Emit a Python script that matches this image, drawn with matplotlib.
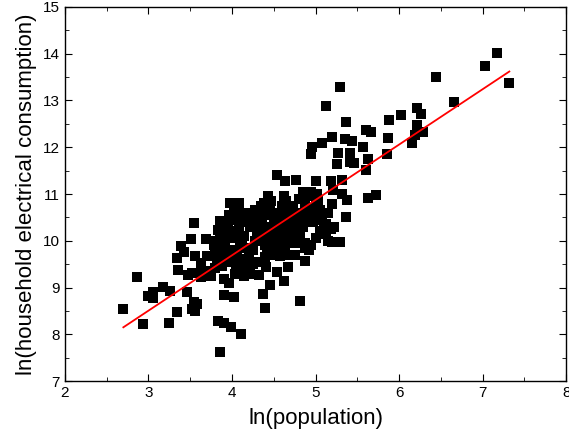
"""Scatter of ln(household electrical consumption) vs ln(population) with linear fit."""
import matplotlib
matplotlib.use("Agg")
import matplotlib.pyplot as plt
from matplotlib.ticker import MultipleLocator
import numpy as np

plt.rcParams["font.family"] = ["Liberation Sans", "DejaVu Sans"]

# --- points (outer, well-separated ones) ---
x_outer = [7.17, 7.03, 7.32, 6.44, 6.66, 5.29, 5.13, 6.22, 6.26, 6.02, 5.88, 5.37,
           6.22, 5.60, 5.67, 6.29, 6.19, 5.20, 5.87, 5.35, 5.44, 5.08, 6.16, 4.96,
           5.57, 4.95, 5.27, 5.41, 5.86, 5.63, 5.41, 5.26, 5.46, 5.60, 4.54, 4.77,
           5.01, 4.63, 5.18, 5.32, 5.21, 5.32, 5.72, 5.63, 5.38, 5.20, 5.36, 5.29,
           5.20, 4.82, 3.86, 4.11, 3.99, 3.90, 3.83, 4.40, 4.37, 4.46, 4.62, 4.67,
           4.54, 4.41, 4.32, 4.88, 4.02, 3.90, 3.97, 3.91,
           2.70, 2.94, 2.86, 2.99, 3.05, 3.05, 3.17, 3.26, 3.25, 3.34, 3.46, 3.54,
           3.58, 3.52, 3.56, 3.36, 3.34, 3.39, 3.42, 3.51, 3.54, 3.69, 3.47, 3.52,
           3.56, 3.63, 3.63, 3.75, 3.70, 3.80, 3.86, 3.98, 4.08, 3.83, 3.81, 3.80,
           3.86, 3.94]
y_outer = [14.02, 13.74, 13.37, 13.50, 12.97, 13.28, 12.88, 12.85, 12.71, 12.69, 12.59, 12.54,
           12.47, 12.36, 12.32, 12.32, 12.26, 12.23, 12.19, 12.18, 12.13, 12.10, 12.10, 12.00,
           12.00, 11.86, 11.88, 11.88, 11.85, 11.75, 11.68, 11.65, 11.66, 11.52, 11.41, 11.31,
           11.28, 11.27, 11.27, 11.29, 11.09, 11.00, 10.98, 10.91, 10.87, 10.78, 10.50, 9.97,
           9.97, 8.72, 7.62, 8.01, 8.16, 8.25, 8.28, 8.56, 8.87, 9.05, 9.13, 9.43,
           9.33, 9.43, 9.27, 9.56, 8.79, 8.84, 9.10, 9.18,
           8.54, 8.21, 9.22, 8.82, 8.78, 8.90, 9.01, 8.93, 8.25, 8.47, 8.91, 8.69,
           8.65, 8.54, 8.49, 9.38, 9.63, 9.89, 9.76, 10.04, 10.39, 10.04, 9.26, 9.31,
           9.67, 9.53, 9.23, 9.24, 9.67, 9.41, 10.43, 10.81, 10.80, 10.23, 10.00, 9.78,
           9.76, 10.17]

# --- dense central cloud (estimated) ---
x_core = [4.02, 4.08, 4.12, 4.05, 4.15, 3.95, 3.90, 3.85, 3.90, 3.95, 4.00, 4.05,
          4.10, 4.15, 4.20, 4.25, 4.20, 4.18, 4.10, 4.02, 3.98, 3.93, 3.88, 4.05,
          4.12, 4.22, 4.25, 4.27, 4.30, 4.22, 4.18, 4.25, 4.30, 4.35, 4.38, 4.43,
          4.47, 4.40, 4.45, 4.50, 4.42, 4.38, 4.35, 4.40, 4.42, 4.48, 4.52, 4.55,
          4.58, 4.60, 4.55, 4.60, 4.62, 4.65, 4.68, 4.70, 4.65, 4.70, 4.63, 4.58,
          4.50, 4.68, 4.72, 4.75, 4.78, 4.73, 4.80, 4.85, 4.90, 4.95, 5.00, 4.88,
          4.93, 4.97, 4.85, 4.82, 4.88, 4.92, 4.95, 5.00, 5.05, 5.10, 5.12, 5.15,
          5.08, 5.05, 4.98, 5.03, 5.02, 4.87, 4.78, 4.75, 4.32, 4.28, 4.35, 4.45,
          4.52, 4.57, 4.62, 4.48, 4.36, 4.30, 4.15, 4.08, 4.00, 3.92, 3.86, 3.78,
          3.82, 3.88, 4.10, 4.16, 4.22, 4.45, 4.50, 4.56, 4.66, 4.72, 4.80, 4.84,
          4.90, 4.96, 5.06, 5.14, 5.18, 4.40, 4.34, 4.26, 4.20, 4.12, 4.06, 3.96,
          4.60, 4.64, 4.70, 4.76, 4.82, 4.60, 4.53, 4.46,
          5.12, 5.18, 5.22, 5.15, 5.10, 3.72, 3.66, 3.60, 4.44, 4.56, 4.64, 4.04]
y_core = [10.70, 10.62, 10.55, 10.45, 10.40, 10.35, 10.10, 9.95, 9.85, 9.70, 9.55, 9.45,
          9.35, 9.25, 9.30, 9.50, 9.70, 9.85, 9.90, 10.05, 9.80, 9.60, 9.45, 9.65,
          9.60, 9.55, 9.80, 10.00, 10.15, 10.30, 10.60, 10.50, 10.40, 10.30, 10.80, 10.95,
          10.85, 10.65, 10.55, 10.45, 10.30, 10.15, 10.05, 9.90, 9.75, 9.70, 9.85, 10.00,
          10.20, 10.35, 10.60, 10.75, 10.95, 10.85, 10.60, 10.40, 10.20, 10.05, 9.70, 9.68,
          9.72, 9.70, 9.95, 10.25, 10.50, 10.70, 10.90, 11.05, 10.95, 11.05, 10.90, 10.75,
          10.55, 10.40, 10.30, 10.10, 9.95, 9.80, 9.90, 10.05, 10.20, 10.30, 10.15, 10.00,
          10.50, 10.65, 10.70, 10.85, 11.00, 9.85, 9.95, 9.70, 10.55, 10.65, 10.75, 10.70,
          10.60, 10.50, 10.55, 10.20, 10.45, 10.25, 10.10, 10.25, 10.20, 10.00, 10.05, 9.90,
          9.60, 9.70, 9.50, 9.60, 9.40, 10.05, 10.15, 10.25, 10.30, 10.35, 10.40, 10.60,
          10.45, 10.60, 10.45, 10.60, 10.30, 9.65, 9.55, 10.35, 10.45, 10.00, 9.75, 10.55,
          10.10, 9.90, 10.75, 10.10, 10.30, 10.45, 10.35, 10.25,
          10.35, 10.25, 10.30, 10.60, 10.60, 9.35, 9.28, 9.32, 9.85, 9.78, 9.95, 9.30]

# linear fit
fit_x = [2.70, 7.32]
fit_slope = 1.184
fit_intercept = 4.953

x_all = np.array(x_outer + x_core)
y_all = np.array(y_outer + y_core)

fig = plt.figure(figsize=(5.69, 4.36), dpi=100)
ax = fig.add_axes([0.114, 0.126, 0.881, 0.858])

ax.plot(x_all, y_all, "s", color="black", markersize=7, markeredgewidth=0)
fx = np.array(fit_x)
ax.plot(fx, fit_intercept + fit_slope * fx, color="red", linewidth=1.3)

ax.set_xlim(2, 8)
ax.set_ylim(7, 15)
ax.xaxis.set_major_locator(MultipleLocator(1))
ax.xaxis.set_minor_locator(MultipleLocator(0.5))
ax.yaxis.set_major_locator(MultipleLocator(1))
ax.yaxis.set_minor_locator(MultipleLocator(0.5))
ax.tick_params(which="both", direction="in", top=True, right=True, labelsize=11)
ax.tick_params(which="major", length=5)
ax.tick_params(which="minor", length=3)
for s in ax.spines.values():
    s.set_linewidth(1.0)

ax.set_xlabel("ln(population)", fontsize=16, labelpad=6)
ax.set_ylabel("ln(household electrical consumption)", fontsize=16, labelpad=4)

fig.savefig("out.png", dpi=100)
plt.close(fig)
